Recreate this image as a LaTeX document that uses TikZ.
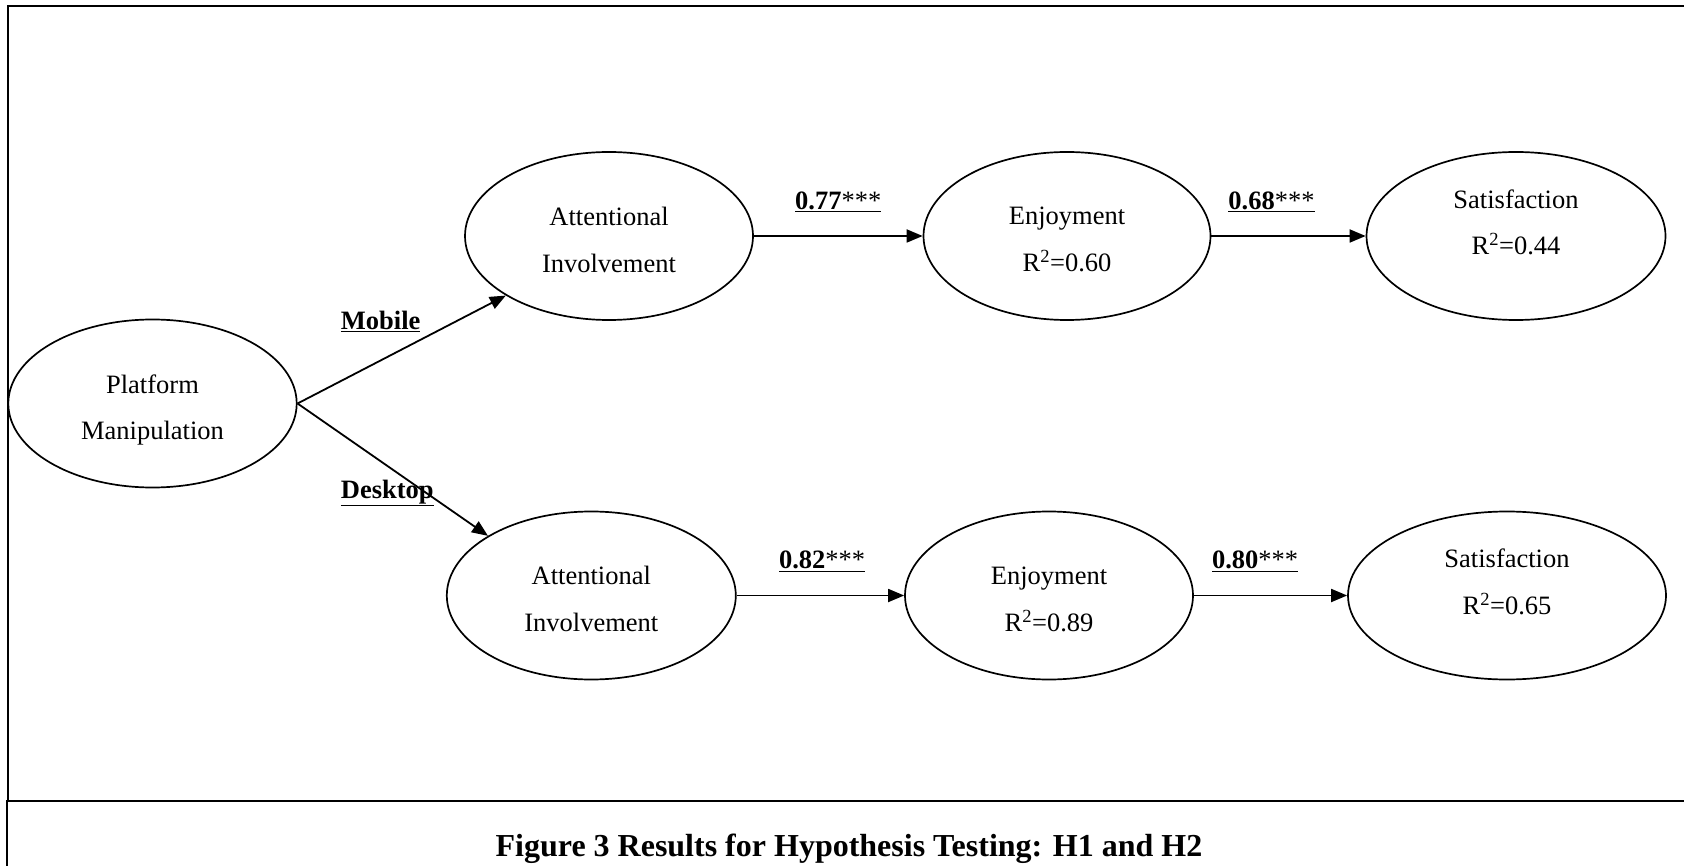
\documentclass[tikz,border=0pt]{standalone}
\usepackage{fontspec}
\setmainfont{Liberation Serif}
\usetikzlibrary{shapes.geometric,arrows.meta}
\newcommand\lnstrut{\rule[-8pt]{0pt}{20pt}}
\newcommand\ulgap{\rule[-1pt]{0pt}{1pt}}
\begin{document}
\begin{tikzpicture}[x=1pt,y=-1pt,
  latent/.style={ellipse,draw,line width=1.7pt,inner sep=0pt,minimum height=168pt},
  lattext/.style={align=center,inner sep=0pt,font=\fontsize{26.5}{46.8}\selectfont},
  arr/.style={-{Triangle[length=16pt,width=13pt]},line width=1.8pt},
  coef/.style={font=\fontsize{26.5}{30}\selectfont,anchor=base,inner sep=0pt},
  grp/.style={font=\fontsize{26.5}{30}\selectfont\bfseries,anchor=base west,inner sep=0pt},
  frameline/.style={line width=2pt}
]
\useasboundingbox (0,0) rectangle (1684,866);

% frame
\draw[frameline] (1684,6.5) -- (8,6.5) -- (8,800.7);
\draw[frameline] (1684,800.7) -- (6.7,800.7) -- (6.7,866);

% latent variables
\node[latent,minimum width=288.4pt] (pm)  at (152.5,403.5) {};
\node[latent,minimum width=288pt]   (ai1) at (609,236) {};
\node[latent,minimum width=287pt]   (en1) at (1067,236) {};
\node[latent,minimum width=299pt]   (sa1) at (1516,236) {};
\node[latent,minimum width=289pt]   (ai2) at (591.3,595.5) {};
\node[latent,minimum width=288pt]   (en2) at (1049,595.5) {};
\node[latent,minimum width=318pt]   (sa2) at (1507,595.5) {};

% texts
\node[lattext] (pmt)  at (152.5,411.1) {\lnstrut Platform\\\lnstrut Manipulation};
\node[lattext] (ai1t) at (609,243.6) {\lnstrut Attentional\\\lnstrut Involvement};
\node[lattext] (en1t) at (1067,243.6) {\lnstrut Enjoyment\\\lnstrut R\textsuperscript{2}=0.60};
\node[lattext] (sa1t) at (1516,226.1) {\lnstrut Satisfaction\\\lnstrut R\textsuperscript{2}=0.44};
\node[lattext] (ai2t) at (591.3,603.1) {\lnstrut Attentional\\\lnstrut Involvement};
\node[lattext] (en2t) at (1049,603.1) {\lnstrut Enjoyment\\\lnstrut R\textsuperscript{2}=0.89};
\node[lattext] (sa2t) at (1507,585.6) {\lnstrut Satisfaction\\\lnstrut R\textsuperscript{2}=0.65};

% paths
\draw[arr] (pm.east) -- (ai1.210);
\draw[arr] (pm.east) -- (ai2.150);
\draw[arr] (ai1.east) -- node[coef,pos=0.5,yshift=26.7pt] (c1) {\underline{\ulgap\textbf{0.77}***}} (en1.west);
\draw[arr] (en1.east) -- node[coef,pos=0.39,yshift=26.7pt] (c2) {\underline{\ulgap\textbf{0.68}***}} (sa1.west);
\draw[arr] (ai2.east) -- node[coef,pos=0.51,yshift=26.7pt] (c3) {\underline{\ulgap\textbf{0.82}***}} (en2.west);
\draw[arr] (en2.east) -- node[coef,pos=0.40,yshift=26.7pt] (c4) {\underline{\ulgap\textbf{0.80}***}} (sa2.west);

% group labels
\node[grp] (mob) at (340.7,329.3) {\underline{\ulgap Mobile}};
\node[grp] (desk) at (340.7,498.3) {\underline{\ulgap Desktop}};

% caption
\node[font=\fontsize{32}{38}\selectfont\bfseries,anchor=base,inner sep=0pt] (cap) at (849,856) {Figure 3 Results for Hypothesis Testing: H1 and H2};
\end{tikzpicture}
\end{document}
